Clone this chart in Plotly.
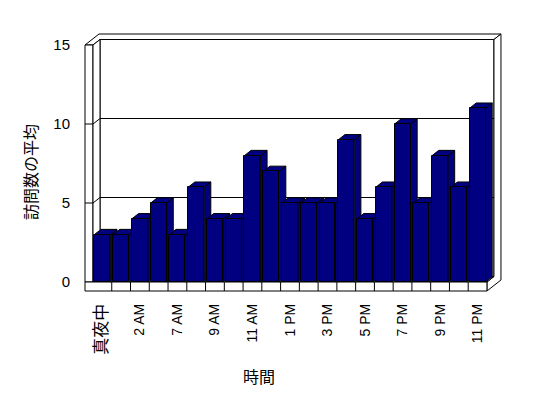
import plotly.graph_objects as go

# ---- data ----
categories = ["真夜中", "1 AM", "2 AM", "6 AM", "7 AM", "8 AM", "9 AM", "10 AM", "11 AM", "正午",
              "1 PM", "2 PM", "3 PM", "4 PM", "5 PM", "6 PM", "7 PM", "8 PM", "9 PM", "10 PM", "11 PM"]
visits = [3, 3, 4, 5, 3, 6, 4, 4, 8, 7, 5, 5, 5, 9, 4, 6, 10, 5, 8, 6, 11]
y_tick_vals = [0, 5, 10, 15]
x_tick_idx = list(range(0, len(categories), 2))
x_tick_text = [categories[i] for i in x_tick_idx]
y_title = "訪問数の平均"
x_title = "時間"

# ---- layout geometry (page body has an 8px margin) ----
OFF = 8
W, H = 548 - OFF, 398 - OFF
L, R, T, B = 80 - OFF, 510 - OFF, 28 - OFF, 292 - OFF
PITCH = 18.76      # px per category
SCALE = 15.8       # px per value unit
X_LEFT_PX = 93 - OFF     # pixel of first slot's left edge
Y_ZERO_PX = 282 - OFF    # pixel of value 0 on the front plane
n = len(categories)
xl = -0.5 + (L - X_LEFT_PX) / PITCH
xr = xl + (R - L) / PITCH
yb = (Y_ZERO_PX - B) / SCALE
yt = (Y_ZERO_PX - T) / SCALE

DX = 7 / PITCH
DY = 5.5 / SCALE
WALL_T = 8 / PITCH
FLOOR_T = 9 / SCALE
YMAX = y_tick_vals[-1]
BAR_W = 0.85
BAR_D = 0.95
NAVY = "#000080"


def P(x, y, z):
    return (x + z * DX, y + z * DY)


def path(pts):
    return "M " + " L ".join(f"{p[0]:.4f},{p[1]:.4f}" for p in pts) + " Z"


shapes = []


def poly(pts, fill="white"):
    shapes.append(dict(type="path", path=path(pts), xref="x", yref="y", layer="below",
                       fillcolor=fill, line=dict(color="black", width=1)))


def seg(p, q):
    shapes.append(dict(type="line", x0=p[0], y0=p[1], x1=q[0], y1=q[1], xref="x", yref="y",
                       layer="below", line=dict(color="black", width=1)))


x0 = -0.5
x1 = n - 0.5
xw = x0 - WALL_T
yf = -FLOOR_T

# back wall front face
poly([P(x0, 0, 1), P(x1, 0, 1), P(x1, YMAX, 1), P(x0, YMAX, 1)])
# top faces (left wall + back wall)
poly([P(xw, YMAX, 0), P(x0, YMAX, 0), P(x0, YMAX, 1), P(x1, YMAX, 1), P(x1, YMAX, 2), P(xw, YMAX, 2)])
# right faces (back wall + floor)
poly([P(x1, 0, 0), P(x1, 0, 1), P(x1, YMAX, 1), P(x1, YMAX, 2), P(x1, yf, 2), P(x1, yf, 0)])
# left wall front face
poly([P(xw, 0, 0), P(x0, 0, 0), P(x0, YMAX, 0), P(xw, YMAX, 0)])
# left wall inner face
poly([P(x0, 0, 0), P(x0, 0, 1), P(x0, YMAX, 1), P(x0, YMAX, 0)])
# floor top
poly([P(x0, 0, 0), P(x1, 0, 0), P(x1, 0, 1), P(x0, 0, 1)])
# floor front face
poly([P(xw, yf, 0), P(x1, yf, 0), P(x1, 0, 0), P(xw, 0, 0)])
for k in range(1, n):
    seg(P(x0 + k, 0, 0), P(x0 + k, yf, 0))
# gridlines
for v in y_tick_vals:
    if 0 < v < YMAX:
        seg(P(x0, v, 1), P(x1, v, 1))
        seg(P(x0, v, 0), P(x0, v, 1))
        seg(P(xw, v, 0), P(x0, v, 0))

# bar side and top faces
for i, v in enumerate(visits):
    bl = i - BAR_W / 2
    br = i + BAR_W / 2
    poly([P(br, 0, 0), P(br, 0, BAR_D), P(br, v, BAR_D), P(br, v, 0)], NAVY)
    poly([P(bl, v, 0), P(br, v, 0), P(br, v, BAR_D), P(bl, v, BAR_D)], NAVY)

fig = go.Figure()
fig.add_trace(go.Bar(x=list(range(n)), y=visits, width=BAR_W,
                     marker=dict(color=NAVY, line=dict(color="black", width=1)),
                     hovertext=categories, showlegend=False))

font_fam = "Liberation Sans, Noto Sans CJK JP, sans-serif"

# CJK tick labels are drawn a bit larger, as in the original
tick_text_styled = [t if t.isascii() else f'<span style="font-size:17px;color:#000000">{t}</span>'
                    for t in x_tick_text]


def paper_x(px):
    return (px - OFF - L) / (R - L)


def paper_y(py):
    return (B - (py - OFF)) / (B - T)


fig.update_layout(
    width=W, height=H,
    margin=dict(l=L, r=W - R, t=T, b=H - B, pad=0),
    paper_bgcolor="white", plot_bgcolor="white",
    font=dict(family=font_fam, size=14, color="#000000"),
    bargap=0,
    xaxis=dict(range=[xl, xr], tickvals=x_tick_idx, ticktext=tick_text_styled, tickangle=-90,
               showgrid=False, zeroline=False, showline=False, ticks="",
               ticklabelstandoff=8, tickfont=dict(size=14, family=font_fam, color="#000000")),
    yaxis=dict(range=[yb, yt], tickvals=y_tick_vals, showgrid=False, zeroline=False,
               showline=False, ticks="", ticklabelstandoff=9,
               tickfont=dict(size=15, family=font_fam, color="#000000")),
    shapes=shapes,
    annotations=[
        dict(text=y_title, xref="paper", yref="paper", x=paper_x(30), y=paper_y(172),
             textangle=-90, showarrow=False, xanchor="center", yanchor="middle",
             font=dict(size=16, family="Noto Sans CJK JP", color="#000000")),
        dict(text=x_title, xref="paper", yref="paper", x=paper_x(259), y=paper_y(376),
             showarrow=False, xanchor="center", yanchor="middle",
             font=dict(size=16, family="Noto Sans CJK JP", color="#000000")),
    ],
)

fig.write_html("out.html")
